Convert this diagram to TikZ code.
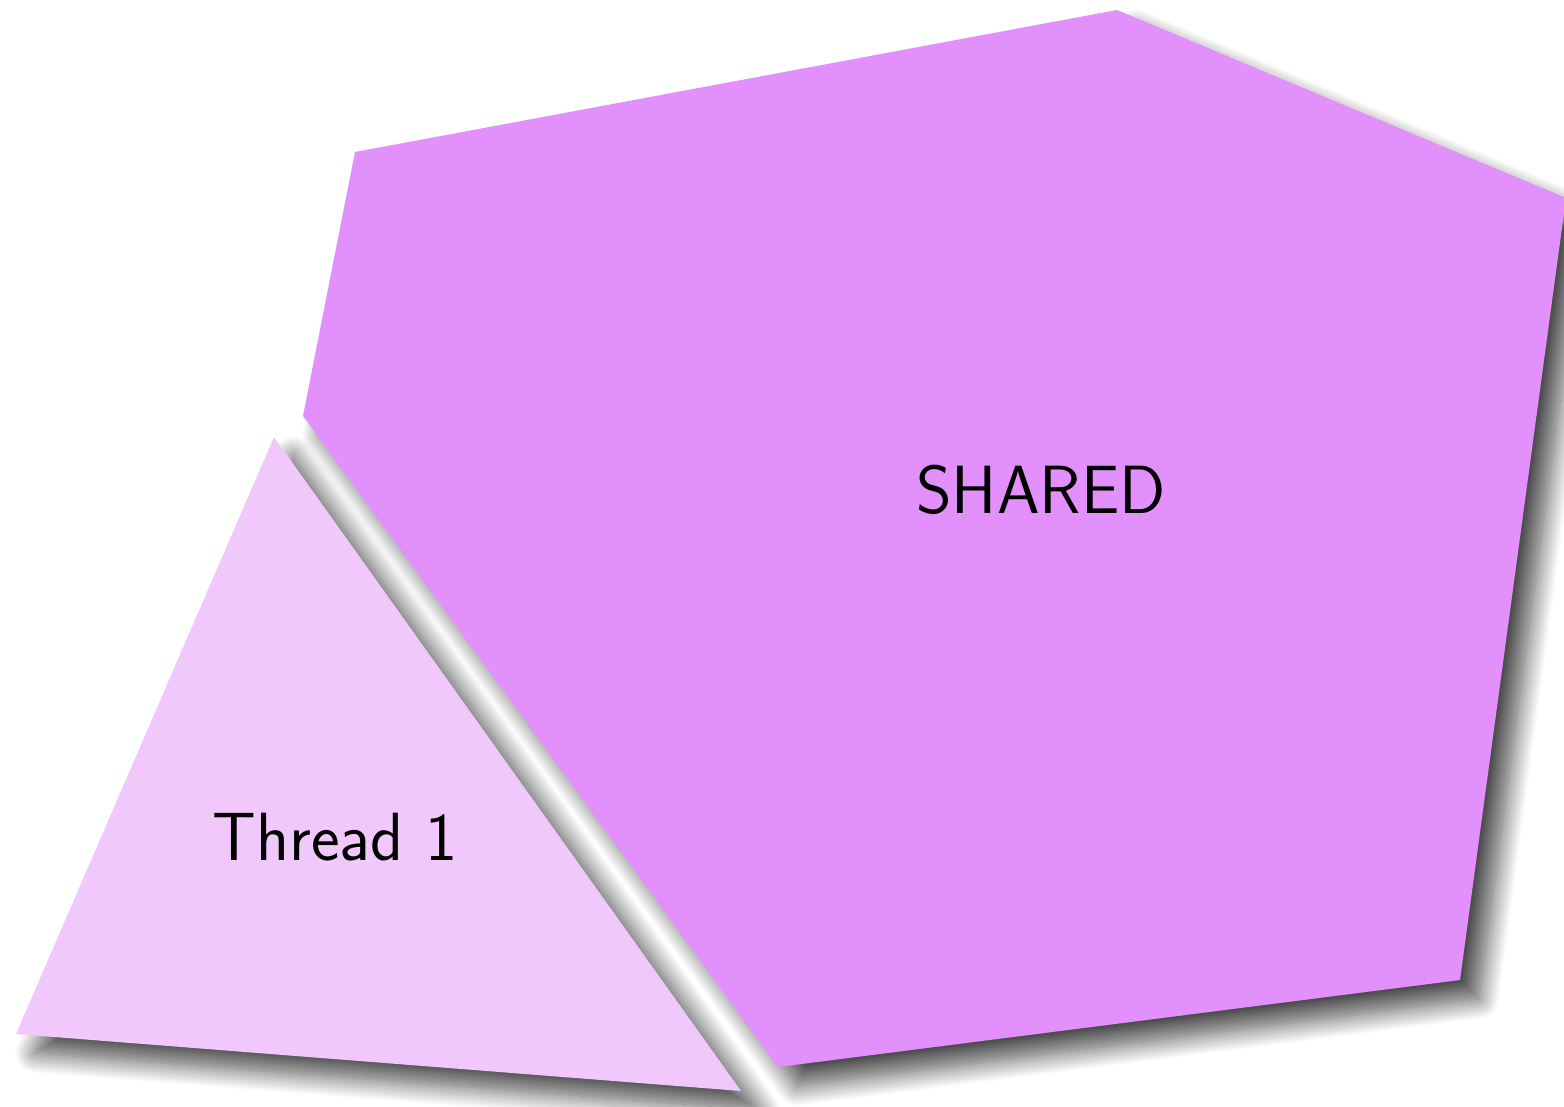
\documentclass[tikz,border=0pt]{standalone}
\usetikzlibrary{shadows.blur}
\definecolor{sharedfill}{RGB}{225,144,252}
\definecolor{threadfill}{RGB}{240,200,252}
\tikzset{
  region/.style={blur shadow={shadow xshift=0.19cm, shadow yshift=-0.19cm,
    shadow blur radius=0.2cm, shadow opacity=70, shadow blur steps=24}},
  label/.style={font=\sffamily\fontsize{19.4}{23}\selectfont, text=black}
}
\begin{document}
\begin{tikzpicture}[x=0.01cm,y=-0.01cm]
\useasboundingbox (0,0) rectangle (1564,1106);
% shared region
\fill[sharedfill, region] (355,152) -- (1117,10) -- (1566,198) -- (1460,980)
  -- (778,1067) -- (303,416) -- cycle;
% thread-local region
\fill[threadfill, region] (274,437) -- (741,1091) -- (16,1034) -- cycle;
\node[label] (shared) at (1041,490) {SHARED};
\node[label] (thread) at (335,837) {Thread 1};
\end{tikzpicture}
\end{document}
